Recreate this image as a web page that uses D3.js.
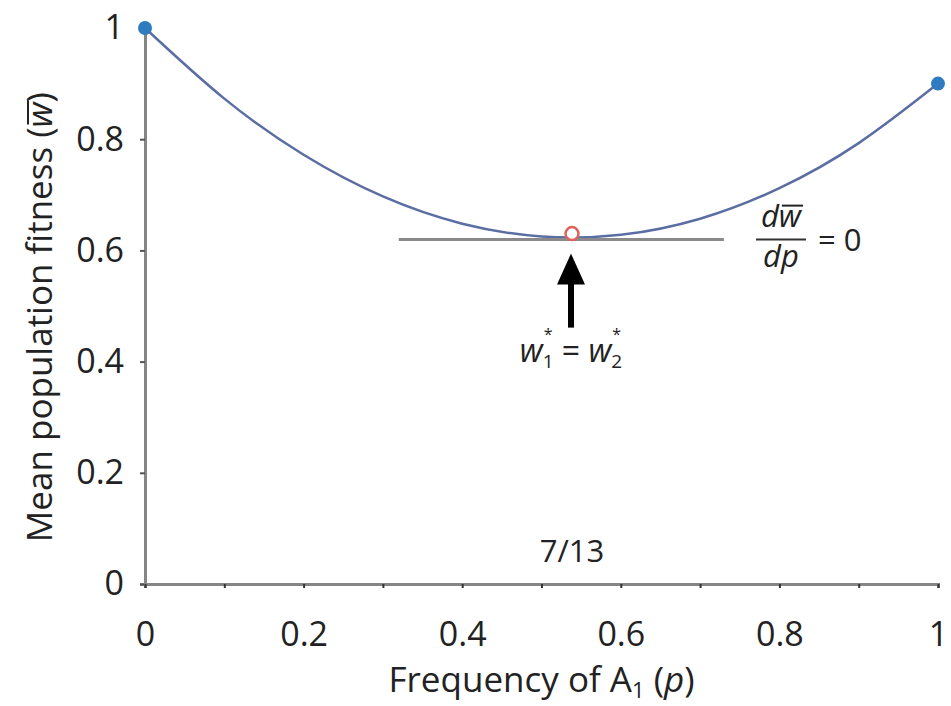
<!DOCTYPE html>
<html>
<head>
<meta charset="utf-8">
<script src="https://cdn.jsdelivr.net/npm/d3@7"></script>
<style>
  body { margin: 0; background: #fff; }
  svg text { font-family: "Open Sans", "DejaVu Sans", sans-serif; fill: #222; }
</style>
</head>
<body>
<div id="chart"></div>
<script>
// values
const pValues = [0, 0.1, 0.2, 0.3, 0.4, 0.5, 0.6, 0.7, 0.8, 0.9, 1];
const wValues = [1, 0.873, 0.772, 0.697, 0.648, 0.625, 0.628, 0.657, 0.712, 0.793, 0.9];
const endPoints = [[0, 1], [1, 0.9]];
const pStar = 7 / 13;
const wStar = 0.623;
const xTicks = [0, 0.1, 0.2, 0.3, 0.4, 0.5, 0.6, 0.7, 0.8, 0.9, 1];
const xTickLabels = [0, 0.2, 0.4, 0.6, 0.8, 1];
const yTicks = [0, 0.2, 0.4, 0.6, 0.8, 1];

const W = 951, H = 706;
const svg = d3.select('#chart').append('svg').attr('width', W).attr('height', H);

const x = d3.scaleLinear().domain([0, 1]).range([145, 938]);
const y = d3.scaleLinear().domain([0, 1]).range([584, 28]);

const axisColor = '#858585';
const fmt = d => d === 0 || d === 1 ? String(d) : d3.format('.1f')(d);

// draws a bar over character i of a text element (for w-bar)
function overline(parent, textSel, i, lift) {
  const n = textSel.node();
  const s = n.getStartPositionOfChar(i), e = n.getEndPositionOfChar(i);
  parent.append('line')
    .attr('x1', s.x + 3).attr('x2', e.x + 2)
    .attr('y1', s.y - lift).attr('y2', s.y - lift)
    .attr('stroke', '#222').attr('stroke-width', 2);
}

// y axis
const yAxis = svg.append('g').attr('transform', `translate(${x(0)},0)`)
  .call(d3.axisLeft(y).tickValues(yTicks).tickSize(5).tickPadding(16).tickFormat(fmt));
yAxis.select('.domain').attr('stroke', axisColor).attr('stroke-width', 3);
yAxis.selectAll('.tick line').attr('stroke', '#555').attr('stroke-width', 2);
yAxis.selectAll('.tick text').attr('font-size', 34).attr('fill', '#222');

// x axis
const xAxis = svg.append('g').attr('transform', `translate(0,${y(0)})`)
  .call(d3.axisBottom(x).tickValues(xTicks).tickSize(4).tickPadding(34)
    .tickFormat(d => xTickLabels.some(v => Math.abs(v - d) < 1e-9) ? fmt(d) : ''));
xAxis.select('.domain').attr('stroke', axisColor).attr('stroke-width', 3);
xAxis.selectAll('.tick line').attr('stroke', '#333').attr('stroke-width', 2);
xAxis.selectAll('.tick text').attr('font-size', 34).attr('fill', '#222');

// axis titles
svg.append('text')
  .attr('x', x(0.5)).attr('y', 692)
  .attr('text-anchor', 'middle').attr('font-size', 35)
  .html('Frequency of A<tspan font-size="22" dy="6">1</tspan><tspan dy="-6"> (</tspan><tspan font-style="italic">p</tspan>)');

const yTitleG = svg.append('g').attr('transform', `translate(52,${y(0.48)}) rotate(-90)`);
const yTitle = yTitleG.append('text')
  .attr('text-anchor', 'middle').attr('font-size', 35)
  .html('Mean population fitness (<tspan font-style="italic">w</tspan>)');
overline(yTitleG, yTitle, 25, 24);

// curve
const line = d3.line().x((d, i) => x(pValues[i])).y(d => y(d)).curve(d3.curveNatural);
svg.append('path').datum(wValues)
  .attr('d', line)
  .attr('fill', 'none').attr('stroke', '#5b6ea3').attr('stroke-width', 2.5);

// tangent line at the minimum
svg.append('line')
  .attr('x1', x(0.32)).attr('x2', x(0.73))
  .attr('y1', y(wStar) + 2).attr('y2', y(wStar) + 2)
  .attr('stroke', '#8a8a8a').attr('stroke-width', 3);

// end points
svg.selectAll('circle.end').data(endPoints).join('circle')
  .attr('class', 'end')
  .attr('cx', d => x(d[0])).attr('cy', d => y(d[1]))
  .attr('r', 7).attr('fill', '#2f7bc0');

// unstable equilibrium
svg.append('circle')
  .attr('cx', x(pStar)).attr('cy', y(wStar) - 4).attr('r', 6.5)
  .attr('fill', '#fff').attr('stroke', '#e0605c').attr('stroke-width', 2.5);

// arrow
const ax = x(pStar) - 1;
svg.append('line')
  .attr('x1', ax).attr('x2', ax).attr('y1', y(wStar) + 90).attr('y2', y(wStar) + 40)
  .attr('stroke', '#000').attr('stroke-width', 6);
svg.append('path')
  .attr('d', `M${ax},${y(wStar) + 16}L${ax - 14},${y(wStar) + 47}L${ax + 14},${y(wStar) + 47}Z`)
  .attr('fill', '#000');

// w1* = w2*  laid out piece by piece
const eqY = y(wStar) + 124;
const eqG = svg.append('g');
const pieces = [
  { t: 'w', size: 32, italic: true, dy: 0 },
  { t: '1', size: 19, dy: 6, star: true },
  { t: ' = ', size: 32, dy: 0 },
  { t: 'w', size: 32, italic: true, dy: 0 },
  { t: '2', size: 19, dy: 6, star: true }
];
let cx = 0;
pieces.forEach(pc => {
  const t = eqG.append('text').attr('x', cx).attr('y', eqY + pc.dy)
    .attr('font-size', pc.size).attr('font-style', pc.italic ? 'italic' : null)
    .attr('xml:space', 'preserve').style('white-space', 'pre')
    .text(pc.t);
  const wdt = t.node().getComputedTextLength();
  if (pc.star) {
    eqG.append('text').attr('x', cx + 1).attr('y', eqY - 22)
      .attr('font-size', 16).text('*');
  }
  cx += wdt;
});
eqG.attr('transform', `translate(${ax - cx / 2},0)`);

// 7/13 label
svg.append('text')
  .attr('x', x(pStar)).attr('y', y(0) - 22)
  .attr('text-anchor', 'middle').attr('font-size', 31)
  .text('7/13');

// dw/dp = 0
const fx = 781, fy = y(wStar) + 2;
const fracG = svg.append('g');
const num = fracG.append('text').attr('x', fx).attr('y', fy - 13)
  .attr('text-anchor', 'middle').attr('font-size', 31).attr('font-style', 'italic')
  .text('dw');
overline(fracG, num, 1, 21);
fracG.append('line').attr('x1', fx - 25).attr('x2', fx + 25).attr('y1', fy).attr('y2', fy)
  .attr('stroke', '#333').attr('stroke-width', 2);
fracG.append('text').attr('x', fx).attr('y', fy + 27)
  .attr('text-anchor', 'middle').attr('font-size', 31).attr('font-style', 'italic')
  .text('dp');
fracG.append('text').attr('x', fx + 37).attr('y', fy + 11)
  .attr('font-size', 31)
  .text('= 0');
</script>
</body>
</html>
